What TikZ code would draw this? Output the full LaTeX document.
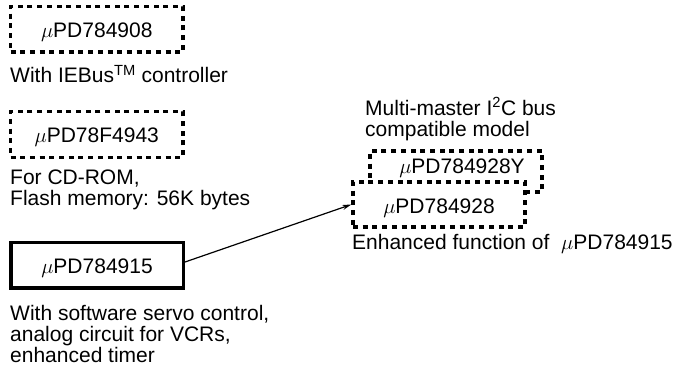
\documentclass[tikz,border=0pt]{standalone}
\usepackage{fontspec}
\setmainfont{Liberation Sans}
\usetikzlibrary{arrows.meta}
\begin{document}
\begin{tikzpicture}[x=1pt,y=-1pt,
  every node/.style={font=\fontsize{21}{21}\selectfont},
  chip/.style={rectangle, inner sep=0pt, text height=17pt, text depth=0pt,
    minimum width=172.5pt, minimum height=45.5pt},
  dotbox/.style={chip, draw, line width=3.3pt, dash pattern=on 5pt off 4.7pt},
  solidbox/.style={chip, draw, line width=3.5pt},
  note/.style={inner sep=0pt, anchor=base west, align=left},
  link/.style={line width=1.2pt, -{Stealth[length=9pt,width=5pt]}}]
\useasboundingbox (0,0) rectangle (687,366);

\node[dotbox] (b1) at (96.75,29.25) {$\mu$PD784908};
\node[note] (t1) at (10,83) {With IEBus\textsuperscript{TM} controller};

\node[dotbox] (b2) at (96.75,134.5) {$\mu$PD78F4943};
\node[note] (t2) at (10,205) {For CD-ROM,\\Flash memory: 56K bytes};

\node[solidbox] (b3) at (97,265) {$\mu$PD784915};
\node[note] (t3) at (10,362) {With software servo control,\\analog circuit for VCRs,\\enhanced timer};

\node[note] (t4) at (365,136.5) {Multi-master I\textsuperscript{2}C bus\\compatible model};
\node[dotbox, minimum width=172pt, minimum height=41pt] (b5) at (456,171.5) {};
\node[chip, text height=0pt, anchor=base] (t5) at (462,173) {$\mu$PD784928Y};
\node[dotbox, fill=white, minimum width=172pt, minimum height=45pt] (b6) at (439,204.5) {$\mu$PD784928};
\node[note] (t6) at (352,249) {Enhanced function of\ \ $\mu$PD784915};

\draw[link] ([yshift=3pt]b3.east) -- (b6.west);
\end{tikzpicture}
\end{document}
